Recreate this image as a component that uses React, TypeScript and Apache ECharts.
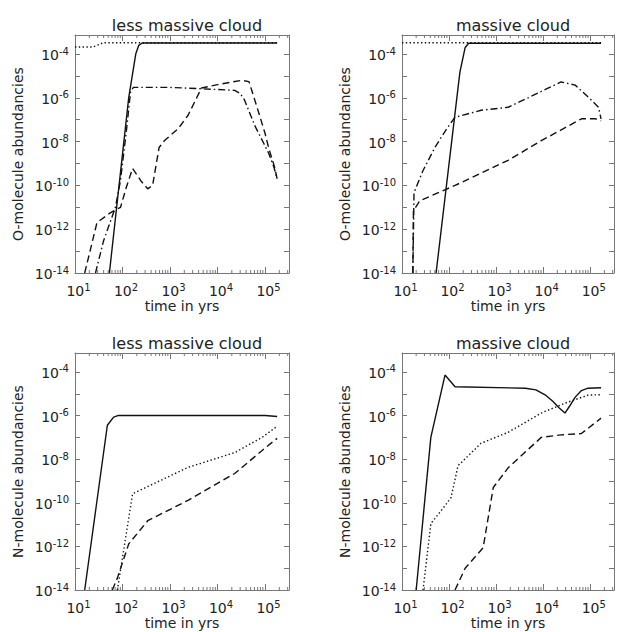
import React, { useEffect, useRef } from 'react';
import * as echarts from 'echarts';

// ---------- axis settings ----------
const X_MIN = 10;
const X_MAX = 3.2e5;
const Y_MIN = 1e-14;
const Y_MAX = 7.4e-4;
const MINOR_MULTIPLIERS = [2, 3, 4, 5, 6, 7, 8, 9];
const MINOR_DECADES = [1, 2, 3, 4, 5];

const TITLES = ['less massive cloud', 'massive cloud', 'less massive cloud', 'massive cloud'];
const Y_NAMES = ['O-molecule abundancies', 'O-molecule abundancies', 'N-molecule abundancies', 'N-molecule abundancies'];
const X_NAME = 'time in yrs';

// ---------- data (time in yrs, abundance) ----------
// Panel 1: less massive cloud, O-molecules
const LESS_O_SOLID_T = [53, 135, 190, 220, 260, 180000];
const LESS_O_SOLID_V = [1e-14, 1e-6, 1e-4, 2.5e-4, 3.2e-4, 3.2e-4];
const LESS_O_DOT_T = [10, 24, 40, 180000];
const LESS_O_DOT_V = [2.1e-4, 2.1e-4, 3.3e-4, 3.3e-4];
const LESS_O_DASHDOT_T = [27, 40, 71, 90, 120, 148, 170, 1000, 4600, 23000, 30000, 37000, 62000, 95000, 120000, 155000, 180000];
const LESS_O_DASHDOT_V = [1e-14, 3e-13, 1e-11, 1.5e-10, 2.7e-8, 2e-6, 3e-6, 3e-6, 2.6e-6, 2.2e-6, 1.6e-6, 8e-7, 5e-8, 8e-9, 2.9e-9, 6.6e-10, 2e-10];
const LESS_O_DASH_T = [16, 29, 55, 91, 120, 163, 250, 340, 430, 590, 760, 1500, 2400, 4600, 10000, 32000, 46000, 68000, 100000, 120000, 160000, 180000];
const LESS_O_DASH_V = [1e-14, 2e-12, 5.6e-12, 1e-11, 8e-11, 6e-10, 1.5e-10, 7e-11, 1e-10, 5.4e-9, 1.1e-8, 4e-8, 1.6e-7, 2.8e-6, 4e-6, 6.3e-6, 5.5e-6, 3.7e-7, 2.4e-8, 5e-9, 6.6e-10, 2e-10];

// Panel 2: massive cloud, O-molecules
const MASS_O_SOLID_T = [53, 170, 220, 260, 170000];
const MASS_O_SOLID_V = [1e-14, 1.5e-5, 2e-4, 3.1e-4, 3.1e-4];
const MASS_O_DOT_T = [10, 170000];
const MASS_O_DOT_V = [3.3e-4, 3.3e-4];
const MASS_O_DASHDOT_T = [17, 18, 28, 50, 90, 134, 480, 1800, 4800, 12000, 24000, 48000, 105000, 150000, 170000];
const MASS_O_DASHDOT_V = [1e-14, 4.7e-11, 4.8e-10, 5.4e-9, 4e-8, 1.3e-7, 2.7e-7, 3.7e-7, 1e-6, 2.6e-6, 5.3e-6, 3.8e-6, 8e-7, 3.7e-7, 1.1e-7];
const MASS_O_DASH_T = [17, 17.5, 24, 50, 134, 1800, 9100, 65000, 130000, 170000];
const MASS_O_DASH_V = [1e-14, 7e-12, 2e-11, 4e-11, 1e-10, 1.4e-9, 1.1e-8, 1.1e-7, 1.1e-7, 9e-8];

// Panel 3: less massive cloud, N-molecules
const LESS_N_SOLID_T = [16, 48, 65, 80, 100000, 180000];
const LESS_N_SOLID_V = [1e-14, 3.6e-7, 8.5e-7, 1e-6, 1e-6, 9e-7];
const LESS_N_DOT_T = [78, 163, 2400, 23000, 87000, 180000];
const LESS_N_DOT_V = [1e-14, 2.6e-10, 4.2e-9, 2e-8, 1e-7, 3.2e-7];
const LESS_N_DASH_T = [61, 78, 135, 340, 2400, 23000, 87000, 180000];
const LESS_N_DASH_V = [1e-14, 3.5e-14, 1.3e-12, 1.5e-11, 1.3e-10, 2.2e-9, 2.5e-8, 9e-8];

// Panel 4: massive cloud, N-molecules
const MASS_N_SOLID_T = [20, 41, 82, 134, 4200, 7000, 11000, 16000, 22000, 29000, 36000, 48000, 65000, 90000, 170000];
const MASS_N_SOLID_V = [1e-14, 1e-7, 7.2e-5, 2.1e-5, 1.8e-5, 1.5e-5, 9e-6, 4.5e-6, 2.2e-6, 1.3e-6, 2.6e-6, 7e-6, 1.4e-5, 1.8e-5, 1.9e-5];
const MASS_N_DOT_T = [28, 41, 68, 110, 155, 480, 1800, 9100, 29000, 91000, 170000];
const MASS_N_DOT_V = [1e-14, 1.1e-11, 4.4e-11, 1.7e-10, 5e-9, 5.4e-8, 1.7e-7, 1.3e-6, 3.7e-6, 8.7e-6, 9e-6];
const MASS_N_DASH_T = [134, 220, 530, 870, 1800, 9100, 24000, 65000, 170000];
const MASS_N_DASH_V = [1e-14, 1e-13, 8.7e-13, 5e-10, 4e-9, 1e-7, 1.3e-7, 1.5e-7, 7.6e-7];

// ---------- styling ----------
const FONT = 'DejaVu Sans';
const TEXT_COLOR = '#222';
const AXIS_COLOR = '#777';
const LINE_COLOR = '#111';
const DASH = {
  solid: 'solid' as any,
  dot: [1.4, 2.4],
  dash: [7, 4],
  dashdot: [7, 3, 1.5, 3],
};

const GRIDS = [
  { left: 75, top: 35, width: 214, height: 238 },
  { left: 402, top: 35, width: 212, height: 238 },
  { left: 75, top: 353, width: 214, height: 237 },
  { left: 402, top: 353, width: 212, height: 237 },
];

type Curve = { t: number[]; v: number[]; dash: any };
const PANELS: Curve[][] = [
  [
    { t: LESS_O_DOT_T, v: LESS_O_DOT_V, dash: DASH.dot },
    { t: LESS_O_DASH_T, v: LESS_O_DASH_V, dash: DASH.dash },
    { t: LESS_O_DASHDOT_T, v: LESS_O_DASHDOT_V, dash: DASH.dashdot },
    { t: LESS_O_SOLID_T, v: LESS_O_SOLID_V, dash: DASH.solid },
  ],
  [
    { t: MASS_O_DOT_T, v: MASS_O_DOT_V, dash: DASH.dot },
    { t: MASS_O_DASH_T, v: MASS_O_DASH_V, dash: DASH.dash },
    { t: MASS_O_DASHDOT_T, v: MASS_O_DASHDOT_V, dash: DASH.dashdot },
    { t: MASS_O_SOLID_T, v: MASS_O_SOLID_V, dash: DASH.solid },
  ],
  [
    { t: LESS_N_DOT_T, v: LESS_N_DOT_V, dash: DASH.dot },
    { t: LESS_N_DASH_T, v: LESS_N_DASH_V, dash: DASH.dash },
    { t: LESS_N_SOLID_T, v: LESS_N_SOLID_V, dash: DASH.solid },
  ],
  [
    { t: MASS_N_DOT_T, v: MASS_N_DOT_V, dash: DASH.dot },
    { t: MASS_N_DASH_T, v: MASS_N_DASH_V, dash: DASH.dash },
    { t: MASS_N_SOLID_T, v: MASS_N_SOLID_V, dash: DASH.solid },
  ],
];

const lg = (x: number) => Math.log10(x);
const isInt = (v: number) => Math.abs(v - Math.round(v)) < 1e-6;

const richLabel = {
  b: { fontFamily: FONT, fontSize: 14, color: TEXT_COLOR, lineHeight: 16, verticalAlign: 'bottom' as const },
  s: { fontFamily: FONT, fontSize: 10, color: TEXT_COLOR, lineHeight: 10, verticalAlign: 'top' as const },
};

function buildOption() {
  const xLo = lg(X_MIN);
  const xHi = lg(X_MAX);
  const yLo = lg(Y_MIN);
  const yHi = lg(Y_MAX);

  const minorVals: number[] = [];
  MINOR_DECADES.forEach((d) =>
    MINOR_MULTIPLIERS.forEach((m) => {
      const v = lg(m) + d;
      if (v < xHi) minorVals.push(v);
    })
  );

  const grid: any[] = [];
  const xAxis: any[] = [];
  const yAxis: any[] = [];
  const series: any[] = [];
  const title: any[] = [];

  GRIDS.forEach((g, i) => {
    grid.push({ ...g, containLabel: false });
    title.push({
      text: TITLES[i],
      left: g.left + g.width / 2,
      top: i < 2 ? 12 : 330,
      textAlign: 'center',
      textStyle: { fontFamily: FONT, fontSize: 16, fontWeight: 'normal', color: TEXT_COLOR },
    });
    const baseX = {
      type: 'value',
      gridIndex: i,
      min: xLo,
      max: xHi,
      interval: 1,
      splitLine: { show: false },
      axisLine: { show: true, onZero: false, lineStyle: { color: AXIS_COLOR, width: 1 } },
      axisTick: { show: true, inside: true, length: 6, lineStyle: { color: AXIS_COLOR } },
    };
    xAxis.push({
      ...baseX,
      position: 'bottom',
      name: X_NAME,
      nameLocation: 'middle',
      nameGap: 26,
      nameTextStyle: { fontFamily: FONT, fontSize: 14, color: TEXT_COLOR },
      axisLabel: {
        show: true,
        margin: 9,
        padding: [0, 0, 0, 7],
        formatter: (v: number) => (isInt(v) ? `{b|10}{s|${Math.round(v)}}` : ''),
        rich: richLabel,
      },
    });
    xAxis.push({ ...baseX, position: 'top', axisLabel: { show: false } });

    const baseY = {
      type: 'value',
      gridIndex: i,
      min: yLo,
      max: yHi,
      interval: 1,
      splitLine: { show: false },
      axisLine: { show: true, onZero: false, lineStyle: { color: AXIS_COLOR, width: 1 } },
      axisTick: { show: true, inside: true, length: 5, lineStyle: { color: AXIS_COLOR } },
    };
    yAxis.push({
      ...baseY,
      position: 'left',
      name: Y_NAMES[i],
      nameLocation: 'middle',
      nameGap: 50,
      nameTextStyle: { fontFamily: FONT, fontSize: 14, color: TEXT_COLOR },
      axisLabel: {
        show: true,
        margin: 6,
        formatter: (v: number) => (isInt(v) && Math.round(v) % 2 === 0 ? `{b|10}{s|${Math.round(v)}}` : ''),
        rich: richLabel,
      },
    });
    yAxis.push({ ...baseY, position: 'right', axisLabel: { show: false } });

    // minor ticks on the logarithmic time axis (bottom and top)
    series.push({
      type: 'custom',
      xAxisIndex: 2 * i,
      yAxisIndex: 2 * i,
      silent: true,
      clip: false,
      data: minorVals.map((v) => [v, yLo]),
      renderItem: (_p: any, api: any) => {
        const x = api.value(0);
        const b = api.coord([x, yLo]);
        const t = api.coord([x, yHi]);
        return {
          type: 'group',
          children: [
            { type: 'line', shape: { x1: b[0], y1: b[1], x2: b[0], y2: b[1] - 3 }, style: { stroke: AXIS_COLOR, lineWidth: 1 } },
            { type: 'line', shape: { x1: t[0], y1: t[1], x2: t[0], y2: t[1] + 3 }, style: { stroke: AXIS_COLOR, lineWidth: 1 } },
          ],
        };
      },
    });

    PANELS[i].forEach((c) => {
      series.push({
        type: 'line',
        xAxisIndex: 2 * i,
        yAxisIndex: 2 * i,
        data: c.t.map((t, k) => [lg(t), lg(c.v[k])]),
        showSymbol: false,
        symbol: 'none',
        silent: true,
        clip: true,
        lineStyle: { color: LINE_COLOR, width: 1.4, type: c.dash },
      });
    });
  });

  return { animation: false, backgroundColor: '#fff', title, grid, xAxis, yAxis, series };
}

export default function App() {
  const ref = useRef<HTMLDivElement>(null);
  useEffect(() => {
    if (!ref.current) return;
    const chart = echarts.init(ref.current, undefined, { renderer: 'svg' });
    chart.setOption(buildOption() as any);
    return () => chart.dispose();
  }, []);
  return (
    <div
      ref={ref}
      style={{ position: 'absolute', left: 0, top: 0, width: 618, height: 632, background: '#fff' }}
    />
  );
}
